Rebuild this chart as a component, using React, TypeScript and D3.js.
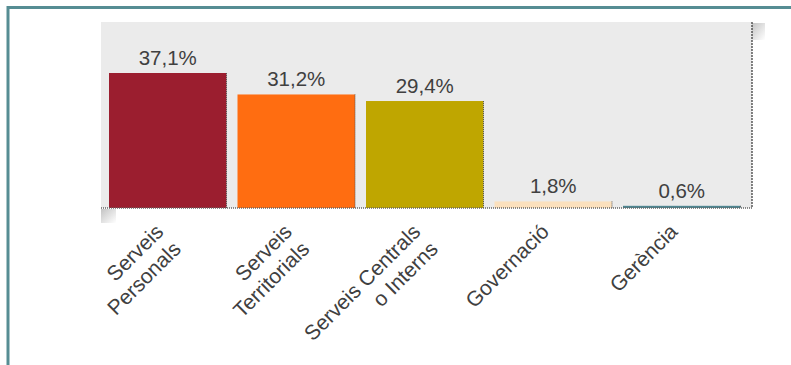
import React from "react";
import * as d3 from "d3";

const categories: string[][] = [
  ["Serveis", "Personals"],
  ["Serveis", "Territorials"],
  ["Serveis Centrals", "o Interns"],
  ["Governació"],
  ["Gerència"],
];
const values: number[] = [37.1, 31.2, 29.4, 1.8, 0.6];
const valueLabels: string[] = ["37,1%", "31,2%", "29,4%", "1,8%", "0,6%"];
const colors: string[] = ["#9b1e2f", "#ff6d11", "#bfa600", "#fbe0bd", "#4e8590"];

const W = 791;
const H = 365;
const plot = { left: 101, right: 752, top: 22, bottom: 208 };
const FONT = "'Liberation Sans', Arial, sans-serif";

export default function App() {
  const idx = values.map((_, i) => String(i));
  const x = d3
    .scaleBand<string>()
    .domain(idx)
    .range([plot.left, 748.5])
    .paddingInner(0.0856)
    .paddingOuter(0.0623);
  const y = d3.scaleLinear().domain([0, 37.1]).range([plot.bottom, 73]);

  return (
    <svg
      width={W}
      height={H}
      style={{ position: "absolute", left: 0, top: 0, background: "#fff" }}
      fontFamily={FONT}
    >
      <defs>
        <linearGradient id="shTR" x1="0" y1="0" x2="1" y2="1">
          <stop offset="0" stopColor="#c4c4c4" />
          <stop offset="1" stopColor="#ffffff" />
        </linearGradient>
        <linearGradient id="shBL" x1="0" y1="0" x2="1" y2="1">
          <stop offset="0" stopColor="#c4c4c4" />
          <stop offset="1" stopColor="#ffffff" />
        </linearGradient>
      </defs>
      {/* outer frame */}
      <path d={`M8,${H} V7.5 H${W}`} fill="none" stroke="#568d93" strokeWidth={3} />
      {/* shadows */}
      <rect x={plot.right} y={23} width={13} height={17} fill="url(#shTR)" />
      <rect x={plot.left} y={plot.bottom + 1} width={15} height={14} fill="url(#shBL)" />
      {/* plot background */}
      <rect
        x={plot.left}
        y={plot.top}
        width={plot.right - plot.left}
        height={plot.bottom - plot.top}
        fill="#ebebeb"
      />
      {/* bars */}
      {values.map((v, i) => {
        const bx = x(String(i))!;
        const bw = x.bandwidth();
        const by = y(v);
        return (
          <g key={i}>
            <rect x={bx} y={by} width={bw} height={plot.bottom - by} fill={colors[i]} />
            <line
              x1={bx + bw}
              x2={bx + bw}
              y1={by}
              y2={plot.bottom}
              stroke="#555"
              strokeWidth={1}
              strokeDasharray="1,1"
            />
            <text
              x={bx + bw / 2}
              y={by - 8}
              textAnchor="middle"
              fontSize={20.5}
              fill="#404040"
            >
              {valueLabels[i]}
            </text>
          </g>
        );
      })}
      {/* right edge and baseline */}
      <line
        x1={plot.right}
        x2={plot.right}
        y1={plot.top}
        y2={plot.bottom}
        stroke="#333"
        strokeWidth={1.2}
        strokeDasharray="2,1"
      />
      <line
        x1={plot.left}
        x2={plot.right}
        y1={plot.bottom}
        y2={plot.bottom}
        stroke="#666"
        strokeWidth={1.5}
        strokeDasharray="1,1"
      />
      {/* category labels */}
      {categories.map((lines, i) => {
        const cx = x(String(i))! + x.bandwidth() / 2 - 3;
        return (
          <g key={i} transform={`translate(${cx},233) rotate(-45)`}>
            {lines.map((ln, j) => (
              <text
                key={j}
                x={0}
                y={j * 24.5}
                textAnchor="end"
                fontSize={21}
                fill="#404040"
              >
                {ln}
              </text>
            ))}
          </g>
        );
      })}
    </svg>
  );
}
